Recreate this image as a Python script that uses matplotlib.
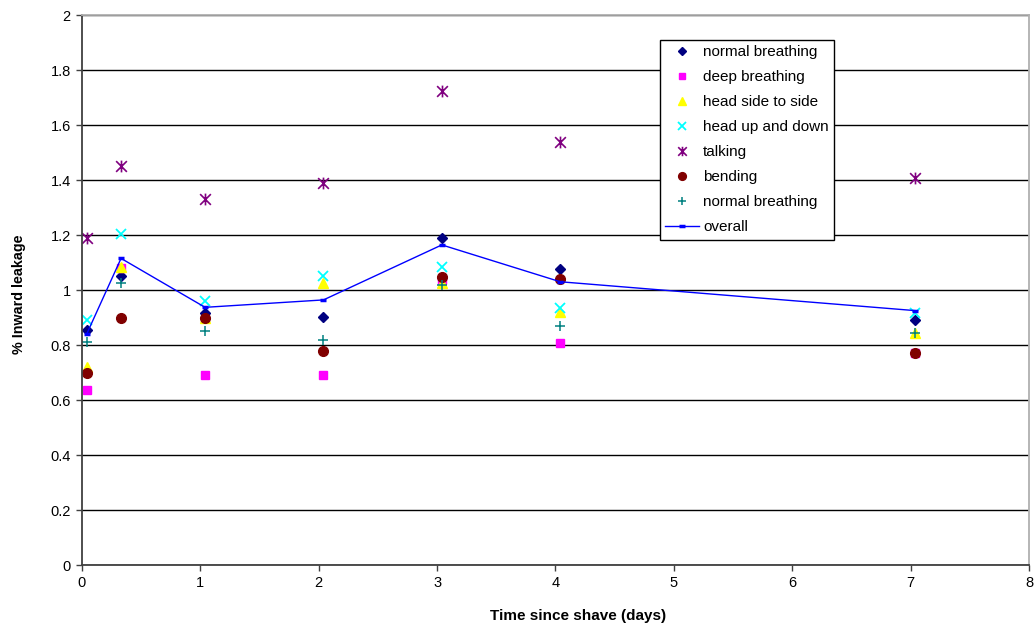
import matplotlib
matplotlib.use("Agg")
import matplotlib.pyplot as plt
from matplotlib.path import Path

plt.rcParams['font.family'] = ['Liberation Sans', 'DejaVu Sans']

# days since shave
days = [0.04, 0.33, 1.04, 2.04, 3.04, 4.04, 7.04]

normal_breathing = [0.855, 1.05, 0.915, 0.903, 1.19, 1.076, 0.89]
deep_breathing = [0.636, 1.08, 0.69, 0.69, 1.036, 0.808, 0.772]
head_side = [0.72, 1.085, 0.90, 1.027, 1.024, 0.921, 0.845]
head_updown = [0.89, 1.204, 0.96, 1.051, 1.085, 0.936, 0.915]
talking = [1.19, 1.45, 1.33, 1.388, 1.724, 1.538, 1.406]
bending = [0.70, 0.90, 0.90, 0.78, 1.048, 1.04, 0.77]
normal_breathing2 = [0.81, 1.027, 0.852, 0.82, 1.02, 0.869, 0.845]
overall = [0.84, 1.115, 0.937, 0.964, 1.164, 1.03, 0.925]

# Excel-style star: an x with a vertical bar
star = Path([(-1, -1), (1, 1), (-1, 1), (1, -1), (0, -1.1), (0, 1.1)],
            [Path.MOVETO, Path.LINETO, Path.MOVETO, Path.LINETO, Path.MOVETO, Path.LINETO])

fig = plt.figure(figsize=(10.35, 6.28), dpi=100)
ax = fig.add_axes([0.0792, 0.1003, 0.9150, 0.8758])

ax.plot(days, normal_breathing, 'D', color='#000080', ms=5.3, ls='none', label='normal breathing')
ax.plot(days, deep_breathing, 's', color='#FF00FF', ms=6, ls='none', label='deep breathing')
ax.plot(days, head_side, '^', color='#FFFF00', ms=7, ls='none', label='head side to side')
ax.plot(days, head_updown, 'x', color='#00FFFF', ms=7, mew=1.3, ls='none', label='head up and down')
ax.plot(days, talking, marker=star, color='#800080', ms=8.5, mew=1.2, ls='none', label='talking')
ax.plot(days, bending, 'o', color='#800000', ms=7, ls='none', label='bending')
ax.plot(days, normal_breathing2, '+', color='#008080', ms=7.5, mew=1.1, ls='none', label='normal breathing')
ax.plot(days, overall, '-', color='#0000FF', lw=1, marker='_', ms=5, mew=2.5, label='overall')

ax.set_xlim(0, 8)
ax.set_ylim(0, 2)
ax.set_xticks(range(0, 9))
ax.set_yticks([0, 0.2, 0.4, 0.6, 0.8, 1, 1.2, 1.4, 1.6, 1.8, 2])
ax.set_yticklabels(['0', '0.2', '0.4', '0.6', '0.8', '1', '1.2', '1.4', '1.6', '1.8', '2'])
ax.yaxis.grid(True, color='black', lw=1)
ax.set_axisbelow(True)

for side in ['top', 'right']:
    ax.spines[side].set_color('#b0b0b0')
    ax.spines[side].set_linewidth(1.3)
for side in ['left', 'bottom']:
    ax.spines[side].set_color('#404040')
    ax.spines[side].set_linewidth(1.3)
ax.tick_params(axis='both', direction='out', length=4, width=1, color='#404040', labelsize=10.5, pad=4)

ax.set_xlabel('Time since shave (days)', fontsize=11, fontweight='bold')
ax.xaxis.set_label_coords(0.524, -0.080)
ax.set_ylabel('% Inward leakage', fontsize=10.3, fontweight='bold')
ax.yaxis.set_label_coords(-0.059, 0.493)

leg = ax.legend(loc='upper left', bbox_to_anchor=(0.610, 0.9545), borderaxespad=0,
                fontsize=11, frameon=True, fancybox=False, framealpha=1,
                edgecolor='black', labelspacing=0.72, handlelength=2.2,
                handletextpad=0.3, borderpad=0.35, markerscale=0.8)
leg.get_frame().set_linewidth(1)

plt.savefig('out.png', dpi=100)
